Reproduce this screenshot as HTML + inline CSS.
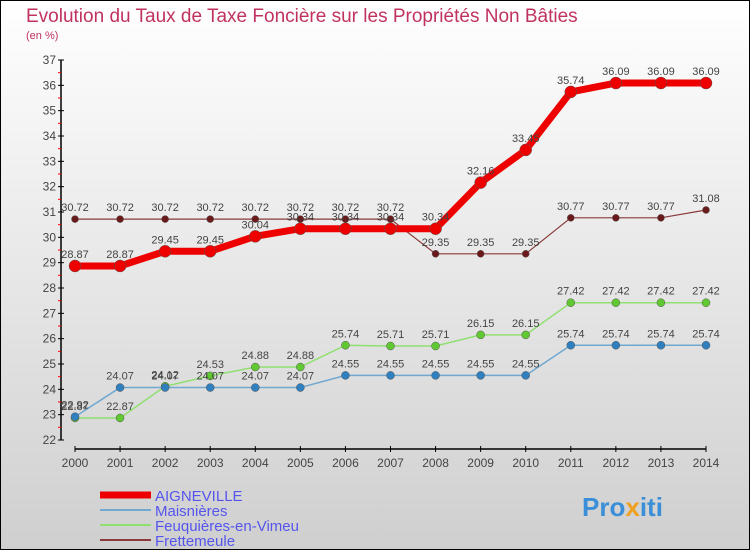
<!DOCTYPE html>
<html><head><meta charset="utf-8"><style>
body{margin:0;width:750px;height:550px;overflow:hidden;font-family:"Liberation Sans",sans-serif}
</style></head><body>
<svg id="c" width="750" height="550" xmlns="http://www.w3.org/2000/svg">
<defs><linearGradient id="bg" x1="0" y1="0" x2="0" y2="1"><stop offset="0" stop-color="#ffffff"/><stop offset="1" stop-color="#cfcfcf"/></linearGradient></defs>
<rect x="0.5" y="0.5" width="749" height="549" fill="url(#bg)" stroke="#000"/>
<text x="26" y="22" font-size="19" fill="#c0335f">Evolution du Taux de Taxe Foncière sur les Propriétés Non Bâties</text>
<text x="26" y="39" font-size="11" fill="#c0335f">(en %)</text>
<g id="axes"></g><g id="series"></g><g id="legend"></g>
<text x="582" y="516" font-size="26" font-weight="bold" fill="#3a8fd8">Pro<tspan fill="#f0a020">x</tspan>iti</text>
</svg>
<script>
const years=[2000,2001,2002,2003,2004,2005,2006,2007,2008,2009,2010,2011,2012,2013,2014];
const yTicks=[22,23,24,25,26,27,28,29,30,31,32,33,34,35,36,37];
const aigneville=[28.87,28.87,29.45,29.45,30.04,30.34,30.34,30.34,30.34,32.16,33.45,35.74,36.09,36.09,36.09];
const maisnieres=[22.92,24.07,24.07,24.07,24.07,24.07,24.55,24.55,24.55,24.55,24.55,25.74,25.74,25.74,25.74];
const feuquieres=[22.87,22.87,24.12,24.53,24.88,24.88,25.74,25.71,25.71,26.15,26.15,27.42,27.42,27.42,27.42];
const frettemeule=[30.72,30.72,30.72,30.72,30.72,30.72,30.72,30.72,29.35,29.35,29.35,30.77,30.77,30.77,31.08];
const NS="http://www.w3.org/2000/svg";
const x=i=>75+i*(706-75)/(years.length-1);
const y=v=>440-(v-22)*(380/15);
function mk(t,a,p){const e=document.createElementNS(NS,t);for(const k in a)e.setAttribute(k,a[k]);p.appendChild(e);return e;}
const ax=document.getElementById('axes');
let l=mk('line',{x1:61,y1:60,x2:61,y2:440,stroke:'#000','stroke-width':1.5},ax);


l=mk('line',{x1:75,y1:449,x2:706,y2:449,stroke:'#000','stroke-width':1.5},ax);


yTicks.forEach((t,i)=>{mk('line',{x1:58,x2:64,y1:y(t),y2:y(t),stroke:'#000'},ax);
 if(i<yTicks.length-1)mk('line',{x1:58,x2:61,y1:y(t+0.5),y2:y(t+0.5),stroke:'#f00'},ax);
 const tx=mk('text',{x:56,y:y(t)+4,'font-size':12,fill:'#444','text-anchor':'end'},ax);tx.textContent=t;
 
 });
years.forEach((yr,i)=>{mk('line',{x1:x(i),x2:x(i),y1:446,y2:452,stroke:'#000'},ax);
 const tx=mk('text',{x:x(i),y:467,'font-size':12,fill:'#444','text-anchor':'middle'},ax);tx.textContent=yr;
 
 });
const S=document.getElementById('series');
const defs=[["frettemeule",frettemeule,'#8a3a3a',1.2,3.5,'#6a1a1a'],["feuquieres",feuquieres,'#90e070',1.5,4,'#60c830'],["maisnieres",maisnieres,'#70a8d0',1.5,4,'#3080c0'],["aigneville",aigneville,'#ee0000',7,6,'#ee0000']];
defs.forEach(([n,d,c,w,r,fc])=>{
 const g=mk('g',{},S);
 
 
 const p=mk('polyline',{points:d.map((v,i)=>x(i)+','+y(v)).join(' '),fill:'none',stroke:c,'stroke-width':w},g);
 
 
 d.forEach((v,i)=>{const ci=mk('circle',{cx:x(i),cy:y(v),r:r,fill:fc,stroke:'#555','stroke-width':0.5},g);
  
  
  const t=mk('text',{x:x(i),y:y(v)-8,'font-size':11,fill:'#444','text-anchor':'middle'},g);t.textContent=v;
  
  });
});
const L=document.getElementById('legend');
const leg=[["AIGNEVILLE",'#ee0000',7],["Maisnières",'#70a8d0',2],["Feuquières-en-Vimeu",'#90e070',2],["Frettemeule",'#8a3a3a',2]];
leg.forEach(([n,c,w],i)=>{const yy=495+i*15;
 const g=mk('g',{},L);
 
 
 mk('line',{x1:100,x2:151,y1:yy,y2:yy,stroke:c,'stroke-width':w},g);
 const t=mk('text',{x:155,y:yy+6,'font-size':15,fill:'#5555ee'},g);t.textContent=n;});
</script>
</body></html>
